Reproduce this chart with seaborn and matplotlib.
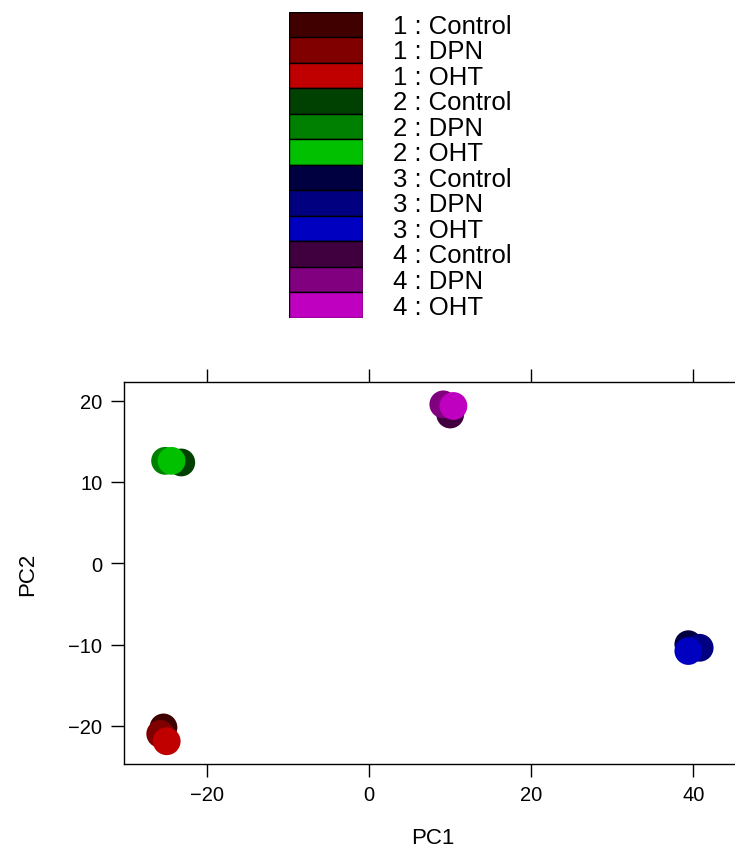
import matplotlib
matplotlib.use("Agg")
import matplotlib.pyplot as plt
import matplotlib.transforms as mtransforms
import seaborn as sns
import pandas as pd

# ---- data ----
groups = ["1", "1", "1", "2", "2", "2", "3", "3", "3", "4", "4", "4"]
treatments = ["Control", "DPN", "OHT"] * 4
labels = [f"{g} : {t}" for g, t in zip(groups, treatments)]
pc1 = [-25.4, -25.8, -25.0, -23.2, -25.2, -24.4, 39.4, 40.8, 39.4, 10.0, 9.15, 10.4]
pc2 = [-20.2, -21.0, -21.9, 12.4, 12.6, 12.6, -9.96, -10.4, -10.8, 18.3, 19.55, 19.35]
colors = ["#400000", "#800000", "#C00000",
          "#004000", "#008000", "#00C000",
          "#000040", "#000080", "#0000C0",
          "#400040", "#800080", "#C000C0"]
xticks = [-20, 0, 20, 40]
yticks = [-20, -10, 0, 10, 20]

df = pd.DataFrame({"PC1": pc1, "PC2": pc2, "label": labels})

sns.set_theme(style="white")
plt.rcParams["font.family"] = ["Liberation Sans", "DejaVu Sans"]
plt.rcParams["axes.unicode_minus"] = True
plt.rcParams["text.color"] = "black"
plt.rcParams["axes.labelcolor"] = "black"
plt.rcParams["xtick.color"] = "black"
plt.rcParams["ytick.color"] = "black"

W, H = 735, 853
fig = plt.figure(figsize=(W / 100, H / 100), dpi=100)

# main axes (right edge runs past the figure edge, as in the reference)
xmin, xmax = -30.3, 46.0
x0 = 369.2 + xmin * 8.1
x1 = 369.2 + xmax * 8.1
ax = fig.add_axes([x0 / W, (H - 765) / H, (x1 - x0) / W, (765 - 383) / H])
sns.scatterplot(data=df, x="PC1", y="PC2", hue="label", palette=colors,
                hue_order=labels, s=400, linewidth=0, alpha=1,
                legend=False, ax=ax, zorder=3)
ax.set_xlim(xmin, xmax)
ax.set_ylim(-24.7, 22.3)
ax.set_xticks(xticks)
ax.set_yticks(yticks)
for sp in ax.spines.values():
    sp.set_color("black")
    sp.set_linewidth(1.0)
ax.tick_params(axis="both", which="both", direction="out", length=9.4,
               width=1.0, color="black", labelcolor="black", labelsize=14.5,
               pad=6, top=True, bottom=True, left=True, right=False,
               labeltop=False, labelbottom=True, labelleft=True)
ax.set_xlabel("PC1", fontsize=16, labelpad=16, color="black")
ax.set_ylabel("PC2", fontsize=16, labelpad=22, color="black")

# key (legend) at top
lx0, lx1, ly0, ly1 = 288.5, 362.7, 12.7, 319.0
lax = fig.add_axes([lx0 / W, (H - ly1) / H, (lx1 - lx0) / W, (ly1 - ly0) / H])
lax.barh(range(len(labels)), [1] * len(labels), height=1.0, left=0,
         color=colors, edgecolor="black", linewidth=1.0)
lax.set_xlim(0, 1)
lax.set_ylim(len(labels) - 0.5, -0.5)
lax.axis("off")
trans = mtransforms.blended_transform_factory(lax.transAxes, lax.transData)
for i, lab in enumerate(labels):
    lax.text((393 - lx0) / (lx1 - lx0), i + 0.05, lab, transform=trans,
             ha="left", va="center", fontsize=18.5, color="black")

fig.savefig("out.png", dpi=100)
